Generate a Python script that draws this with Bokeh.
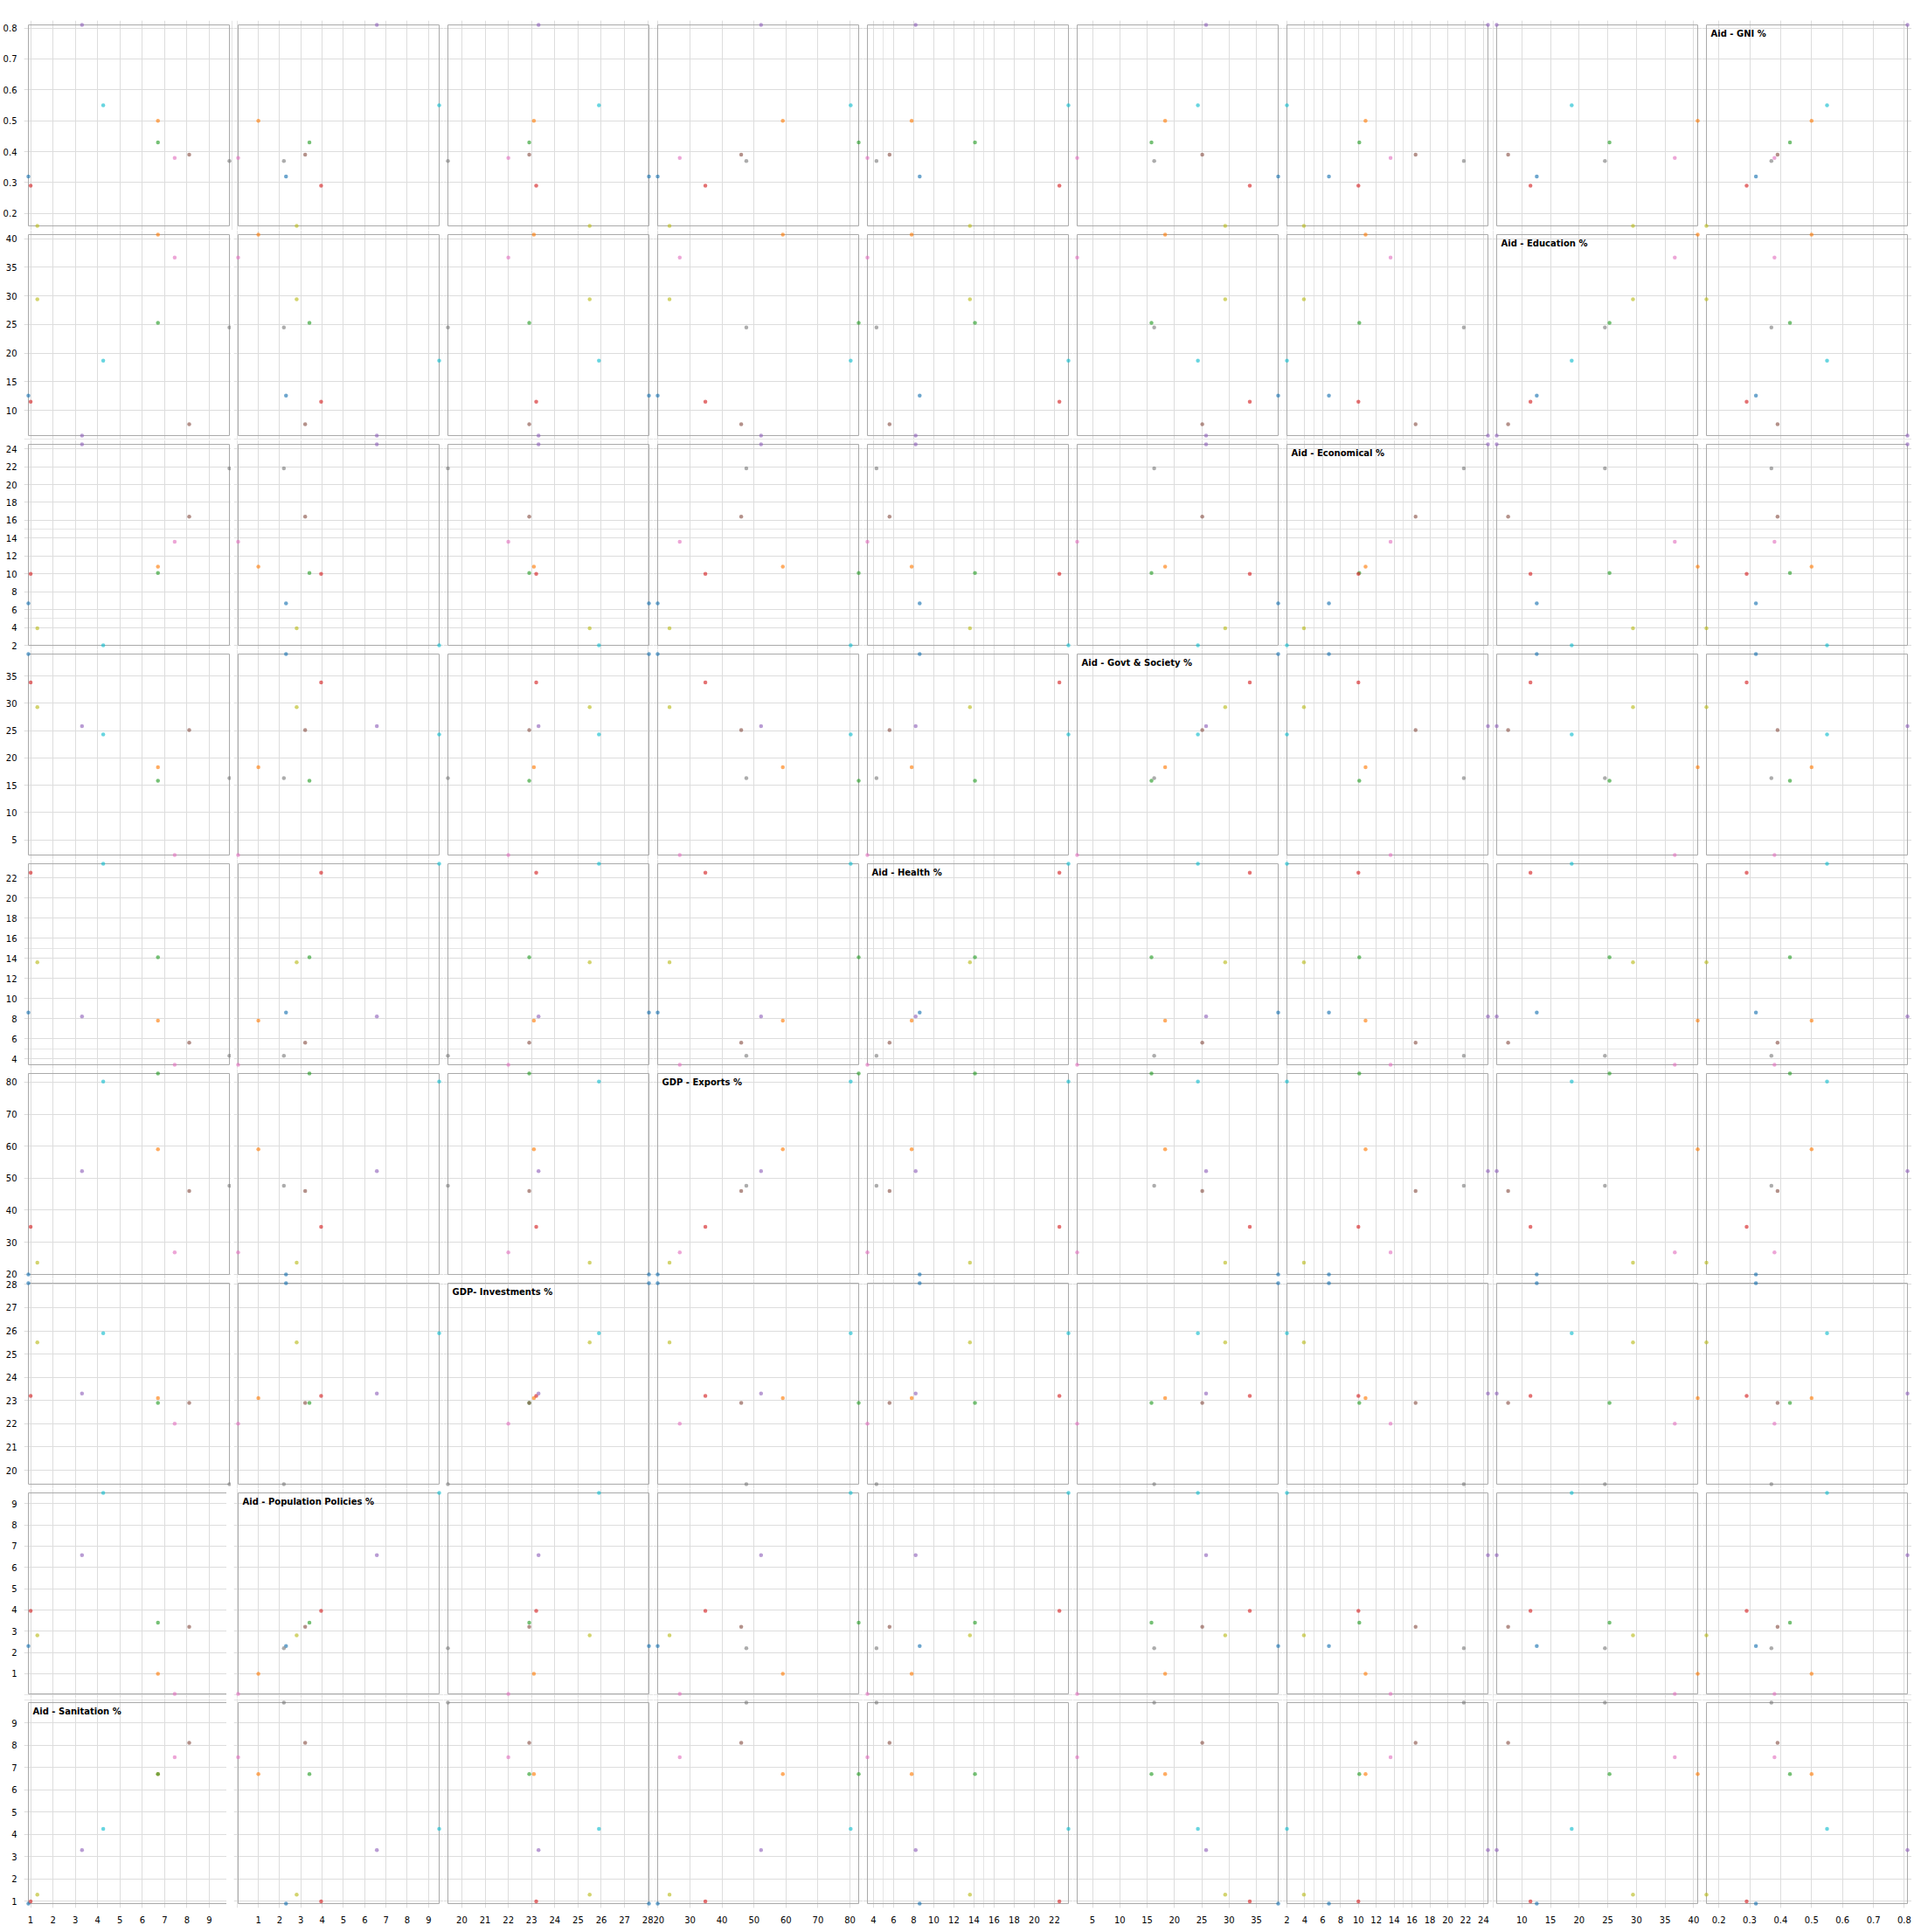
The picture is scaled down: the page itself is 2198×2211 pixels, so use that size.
import math
from bokeh.plotting import figure
from bokeh.layouts import gridplot
from bokeh.models import Range1d, LinearAxis, FixedTicker, Grid, ColumnDataSource
from bokeh.core.properties import value
from bokeh.palettes import Category10
from bokeh.embed import file_html
from bokeh.resources import INLINE

# ten observations (colour coded, category10 order)
groups = ["1", "2", "3", "4", "5", "6", "7", "8", "9", "10"]
colors = list(Category10[10])

aid_gni =        [0.32, 0.50, 0.43, 0.29, 0.81, 0.39, 0.38, 0.37, 0.16, 0.55]
aid_education =  [12.6, 40.7, 25.3, 11.5, 5.6, 7.6, 36.7, 24.5, 29.4, 18.7]
aid_economical = [6.7, 10.8, 10.1, 10.0, 24.5, 16.4, 13.6, 21.8, 3.9, 2.0]
aid_govt =       [39.0, 18.3, 15.8, 33.8, 25.8, 25.1, 2.2, 16.3, 29.3, 24.3]
aid_health =     [8.6, 7.8, 14.1, 22.5, 8.2, 5.6, 3.4, 4.3, 13.6, 23.4]
gdp_exports =    [19.9, 59.0, 82.7, 34.8, 52.2, 46.0, 26.8, 47.6, 23.6, 80.2]
gdp_invest =     [28.05, 23.1, 22.9, 23.2, 23.3, 22.9, 22.0, 19.4, 25.5, 25.9]
aid_population = [2.3, 1.0, 3.4, 3.95, 6.57, 3.2, 0.05, 2.2, 2.8, 9.5]
aid_sanitation = [0.9, 6.7, 6.7, 1.0, 3.3, 8.1, 7.45, 9.9, 1.3, 4.25]

row_names = ["Aid - GNI %", "Aid - Education %", "Aid - Economical %",
             "Aid - Govt & Society %", "Aid - Health %", "GDP - Exports %",
             "GDP- Investments %", "Aid - Population Policies %", "Aid - Sanitation %"]
row_keys = ["gni", "edu", "eco", "gov", "hea", "exp", "inv", "pop", "san"]
row_vals = [aid_gni, aid_education, aid_economical, aid_govt, aid_health,
            gdp_exports, gdp_invest, aid_population, aid_sanitation]
col_order = list(reversed(range(9)))

data = {k: v for k, v in zip(row_keys, row_vals)}
data["color"] = colors
data["group"] = groups
src = ColumnDataSource(data)

CELL = 240
PAD = 5
FONT = "DejaVu Sans"


def d3_ticks(lo, hi, count=8):
    step0 = (hi - lo) / count
    power = math.floor(math.log10(step0))
    err = step0 / 10 ** power
    if err >= math.sqrt(50):
        f = 10
    elif err >= math.sqrt(10):
        f = 5
    elif err >= math.sqrt(2):
        f = 2
    else:
        f = 1
    step = f * 10 ** power
    a = math.ceil(lo / step - 1e-9)
    b = math.floor(hi / step + 1e-9)
    return [round(i * step, 10) for i in range(a, b + 1)]


def padded(vals):
    lo, hi = min(vals), max(vals)
    k = (hi - lo) / (CELL - 2 * PAD)
    return Range1d(lo - PAD * k, hi + PAD * k)


figs = []
for r in range(9):
    row = []
    yv = row_vals[r]
    yt = d3_ticks(min(yv), max(yv))
    for c in range(9):
        ci = col_order[c]
        xv = row_vals[ci]
        xt = d3_ticks(min(xv), max(xv))
        p = figure(frame_width=CELL, frame_height=CELL,
                   x_range=padded(xv), y_range=padded(yv),
                   x_axis_location=None, y_axis_location=None,
                   output_backend="svg", toolbar_location=None,
                   min_border_left=19 if c == 0 else 0,
                   min_border_right=0,
                   min_border_top=23 if r == 0 else 0,
                   min_border_bottom=0)
        p.outline_line_color = None
        p.background_fill_color = "white"
        p.border_fill_color = "white"
        p.add_layout(Grid(dimension=0, ticker=FixedTicker(ticks=xt),
                          grid_line_color="#dddddd", grid_line_width=1))
        p.add_layout(Grid(dimension=1, ticker=FixedTicker(ticks=yt),
                          grid_line_color="#dddddd", grid_line_width=1))
        if c == 0:
            ax = LinearAxis(ticker=FixedTicker(ticks=yt))
            ax.axis_line_color = None
            ax.major_tick_line_color = None
            ax.minor_tick_line_color = None
            ax.major_label_standoff = 2
            ax.major_label_text_font = FONT
            ax.major_label_text_font_size = "10px"
            ax.major_label_text_color = "black"
            p.add_layout(ax, "left")
        if r == 8:
            ax = LinearAxis(ticker=FixedTicker(ticks=xt))
            ax.axis_line_color = None
            ax.major_tick_line_color = None
            ax.minor_tick_line_color = None
            ax.major_label_standoff = 3
            ax.major_label_text_font = FONT
            ax.major_label_text_font_size = "10px"
            ax.major_label_text_color = "black"
            p.add_layout(ax, "below")
        # cell frame at the data extent
        p.quad(left=[min(xv)], right=[max(xv)], bottom=[min(yv)], top=[max(yv)],
               fill_color=None, line_color="#aaaaaa", line_width=1)
        p.scatter(x=row_keys[ci], y=row_keys[r], source=src, size=4.5,
                  fill_color="color", line_color=None, fill_alpha=0.65)
        if ci == r:
            p.text(x=[min(xv)], y=[max(yv)], text=[row_names[r]],
                   x_offset=5, y_offset=4, text_baseline="top", text_align="left",
                   text_font=value(FONT), text_font_size="10px",
                   text_font_style="bold", text_color="black")
        row.append(p)
    figs.append(row)

grid = gridplot(figs, toolbar_location=None)
open("out.html", "w").write(file_html(grid, INLINE))
